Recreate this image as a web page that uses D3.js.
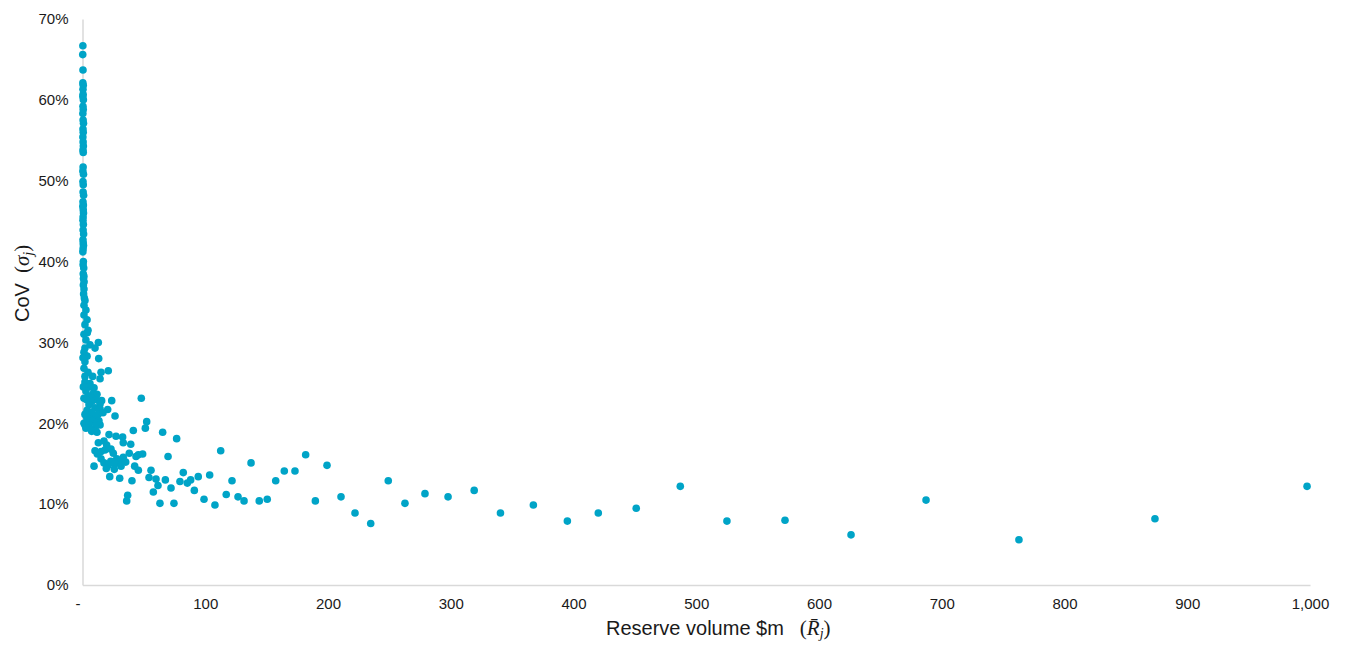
<!DOCTYPE html>
<html>
<head>
<meta charset="utf-8">
<script src="https://cdn.jsdelivr.net/npm/d3@7"></script>
<style>
  html, body { margin: 0; padding: 0; background: #ffffff; }
  svg { display: block; }
</style>
</head>
<body>
<svg id="chart" width="1347" height="645"></svg>
<script>
// Reserve volume ($m) and coefficient of variation (%) per line of business, [volume, CoV]
const smallBooks = [
  [0.3,66.7],[0.2,65.6],[0.4,63.7],[0.3,62.1],[0.6,61.8],[0.4,61.3],[0.5,60.7],[0.3,60.4],[0.7,60.0],
  [0.4,59.2],[0.6,58.8],[0.3,58.3],[0.5,57.5],[0.8,57.1],[0.4,56.4],[0.6,56.0],[0.3,55.4],[0.5,54.8],
  [0.7,54.3],[0.4,53.8],[0.6,53.5],[0.5,51.7],[0.3,51.2],[0.8,50.8],[0.4,49.9],[0.6,49.5],[0.5,48.6],
  [0.9,48.2],[0.4,47.4],[0.7,47.0],[0.3,46.8],[0.6,46.4],[0.8,46.0],[0.5,45.5],[0.4,45.1],[0.7,44.6],
  [0.5,43.9],[0.9,43.4],[0.4,42.7],[0.6,42.3],[0.8,42.0],[0.5,41.6],[0.3,41.2],[0.7,40.0],[0.5,39.6],
  [1.0,39.2],[0.6,38.5],[1.1,38.2],[0.8,37.9],[1.3,37.5],[0.7,37.1],[1.2,36.6],[0.9,36.0],[1.5,35.5],
  [2.0,35.2],[1.2,34.6],[2.8,34.0],[1.2,33.4],[3.7,32.8],[2.0,32.2],[4.5,31.5],[1.2,31.0],[3.9,31.2],
  [2.8,30.3],[6.1,29.7],[2.0,29.3],[1.2,28.8],[3.7,28.3],[0.4,28.1],[2.0,27.6]
];

const clusterBooks = [
  [12.9,30.0],[10.2,29.3],[13.2,28.0],[21.0,26.5],[1.2,26.8],[4.5,26.3],[15.1,26.3],[14.3,25.5],
  [8.3,25.8],[2.0,25.8],[2.0,25.1],[6.1,24.9],[0.7,24.5],[6.1,24.5],[9.4,24.4],[2.8,24.0],[8.8,23.7],
  [11.8,23.6],[4.5,23.4],[1.2,23.1],[7.7,23.1],[23.8,22.8],[15.6,22.8],[11.6,22.9],[7.5,22.7],
  [3.4,22.9],[14.3,22.4],[5.3,22.3],[10.2,21.9],[20.5,21.7],[14.3,21.8],[3.7,21.6],[7.7,21.4],
  [12.6,21.1],[16.7,21.3],[2.0,21.1],[26.5,20.9],[6.1,20.9],[3.4,20.8],[11.0,20.7],[7.5,20.4],
  [3.7,20.4],[8.6,20.2],[13.4,20.3],[11.6,20.0],[1.2,20.0],[2.0,19.8],[14.3,19.8],[5.3,19.8],
  [10.2,19.4],[2.8,19.4],[7.7,19.2],[7.5,19.0],[11.8,18.9]
];

const midBooks = [
  [47.9,23.1],[52.3,20.2],[51.2,19.4],[41.4,19.1],[65.3,18.9],[76.7,18.1],[21.6,18.6],[27.3,18.4],
  [32.7,18.3],[33.2,17.6],[39.3,17.4],[17.5,17.8],[12.9,17.6],[19.7,17.3],[112.6,16.6],[10.2,16.6],
  [12.1,16.2],[15.1,16.5],[18.3,16.7],[23.2,16.8],[25.1,16.3],[38.1,16.3],[43.6,15.9],[45.5,16.1],
  [49.0,16.2],[69.7,15.9],[33.2,15.8],[27.9,15.6],[30.5,15.2],[35.2,15.2],[15.1,15.6],[17.5,15.1],
  [23.0,15.3],[26.5,15.0],[21.0,14.8],[137.3,15.1],[9.4,14.7],[19.4,14.4],[25.9,14.3],[31.4,14.7],
  [42.5,14.7],[45.5,14.2],[199.2,14.8],[164.4,14.1],[173.1,14.1],[181.8,16.1],[55.8,14.2],[82.1,13.9],
  [22.2,13.4],[30.3,13.2],[40.3,12.9],[54.2,13.3],[59.9,13.1],[67.5,13.0],[79.4,12.8],[85.4,12.6],
  [88.1,13.0],[94.3,13.4],[103.6,13.6],[121.8,12.9],[157.4,12.9],[61.5,12.3],[72.1,12.0],[91.1,11.7],
  [57.7,11.5],[36.8,11.1],[36.0,10.4],[99.0,10.6],[117.1,11.2],[126.7,10.9],[131.6,10.4],[144.0,10.4],
  [150.5,10.6],[63.1,10.1],[74.5,10.1],[107.9,9.9],[189.7,10.4],[210.6,10.9],[222.0,8.9],[234.8,7.6]
];

const largeBooks = [
  [249.1,12.9],[262.7,10.1],[279.0,11.3],[297.8,10.9],[319.1,11.7],[340.5,8.9],[367.3,9.9],[395.0,7.9],
  [420.2,8.9],[451.1,9.5],[487.0,12.2],[525.0,7.9],[572.3,8.0],[626.1,6.2],[687.2,10.5],[762.9,5.6],
  [873.7,8.2],[997.6,12.2]
];

const xTickValues = [0, 100, 200, 300, 400, 500, 600, 700, 800, 900, 1000];
const yTickValues = [0, 10, 20, 30, 40, 50, 60, 70];

const points = [...smallBooks, ...clusterBooks, ...midBooks, ...largeBooks];

const svg = d3.select("#chart");
const plot = { left: 82.5, right: 1310, top: 19, bottom: 585 };

const x = d3.scaleLinear().domain([0, 1000]).range([plot.left, plot.right]);
const y = d3.scaleLinear().domain([0, 70]).range([plot.bottom, plot.top]);

const tickFont = "'Liberation Sans', Arial, sans-serif";
const mathFont = "'Liberation Serif', 'DejaVu Serif', serif";
const axisColor = "#d9d9d9";

// x axis
const xAxis = svg.append("g")
  .attr("transform", `translate(0,${plot.bottom})`)
  .call(d3.axisBottom(x).tickValues(xTickValues).tickSize(0).tickPadding(13)
    .tickFormat(d => d === 0 ? "-" : d3.format(",")(d)));
xAxis.select(".domain").attr("stroke", axisColor).attr("stroke-width", 1.5);
xAxis.selectAll("text")
  .attr("font-family", tickFont).attr("font-size", 15).attr("fill", "#1a1a1a")
  .attr("dx", d => d === 0 ? -5 : 0);

// y axis
const yAxis = svg.append("g")
  .attr("transform", `translate(${plot.left},0)`)
  .call(d3.axisLeft(y).tickValues(yTickValues).tickSize(0).tickPadding(14)
    .tickFormat(d => d + "%"));
yAxis.select(".domain").attr("stroke", axisColor).attr("stroke-width", 1.5);
yAxis.selectAll("text")
  .attr("font-family", tickFont).attr("font-size", 15).attr("fill", "#1a1a1a");

// points
svg.append("g")
  .selectAll("circle")
  .data(points)
  .join("circle")
  .attr("cx", d => x(d[0]))
  .attr("cy", d => y(d[1]))
  .attr("r", 3.8)
  .attr("fill", "#00a4c7");

// axis titles
const xTitle = svg.append("text")
  .attr("x", 606).attr("y", 635)
  .attr("font-family", tickFont).attr("font-size", 20).attr("fill", "#1a1a1a");
xTitle.append("tspan").text("Reserve volume $m");
xTitle.append("tspan").attr("dx", 16).attr("font-family", mathFont)
  .attr("font-size", 21).text("(");
xTitle.append("tspan").attr("font-family", mathFont).attr("font-style", "italic")
  .attr("font-size", 21).text("R\u0304");
xTitle.append("tspan").attr("font-family", mathFont).attr("font-style", "italic")
  .attr("font-size", 14).attr("dy", 3).text("j");
xTitle.append("tspan").attr("dy", -3).attr("font-family", mathFont)
  .attr("font-size", 21).text(")");

const yTitle = svg.append("text")
  .attr("transform", "translate(29,322) rotate(-90)")
  .attr("font-family", tickFont).attr("font-size", 20).attr("fill", "#1a1a1a");
yTitle.append("tspan").text("CoV");
yTitle.append("tspan").attr("dx", 10).attr("font-family", mathFont)
  .attr("font-size", 21).text("(");
yTitle.append("tspan").attr("font-family", mathFont).attr("font-style", "italic")
  .attr("font-size", 21).text("\u03c3");
yTitle.append("tspan").attr("font-family", mathFont).attr("font-style", "italic")
  .attr("font-size", 14).attr("dy", 4).text("j");
yTitle.append("tspan").attr("dy", -4).attr("font-family", mathFont)
  .attr("font-size", 21).text(")");
</script>
</body>
</html>
